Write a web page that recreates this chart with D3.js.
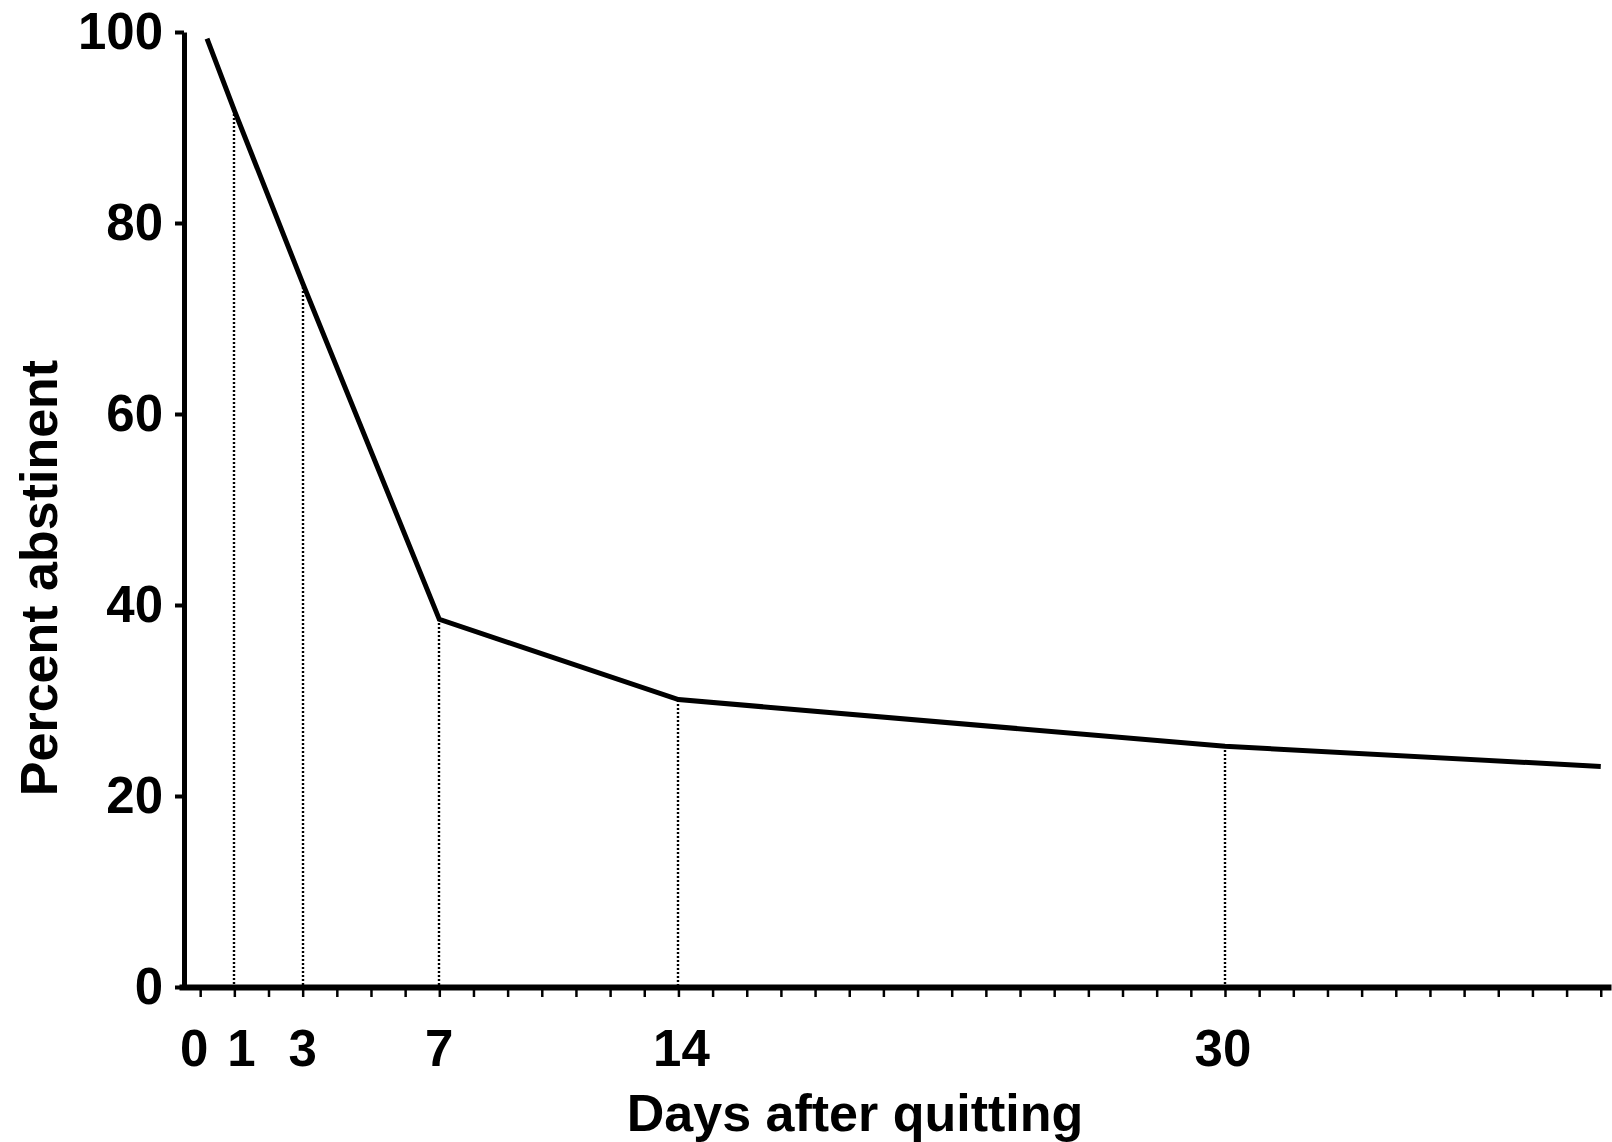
<!DOCTYPE html>
<html>
<head>
<meta charset="utf-8">
<script src="https://cdn.jsdelivr.net/npm/d3@7"></script>
<style>
  html, body { margin: 0; padding: 0; background: #fff; }
  svg { display: block; }
  text { font-family: "Liberation Sans", Arial, sans-serif; font-weight: bold; fill: #000; }
</style>
</head>
<body>
<svg id="chart" width="1612" height="1142"></svg>
<script>
// ---- data ----
const days = [0.2, 1, 3, 7, 14, 30, 41];
const abstinent = [99.3, 91.8, 73.7, 38.5, 30.1, 25.2, 23.1];
const markedDays = [1, 3, 7, 14, 30];
const xTickLabels = [0, 1, 3, 7, 14, 30];
const yTickValues = [0, 20, 40, 60, 80, 100];
const xTitle = "Days after quitting";
const yTitle = "Percent abstinent";

const svg = d3.select("#chart");

const x = d3.scaleLinear().domain([-0.62, 41.3]).range([179, 1611]);
const y = d3.scaleLinear().domain([0, 100]).range([987, 32]);

const points = days.map((d, i) => ({ d, v: abstinent[i] }));
const valueAt = d => abstinent[days.indexOf(d)];

// dotted drop lines
svg.append("g").selectAll("line").data(markedDays).join("line")
  .attr("x1", d => Math.round(x(d))).attr("x2", d => Math.round(x(d)))
  .attr("y1", d => Math.round(y(valueAt(d)))).attr("y2", y(0))
  .attr("stroke", "#000").attr("stroke-width", 2.4)
  .attr("stroke-dasharray", "2,2");

// x axis: minor ticks every day
const xAxis = d3.axisBottom(x)
  .tickValues(d3.range(0, 42))
  .tickSize(10).tickSizeOuter(0)
  .tickFormat("");
const gx = svg.append("g").attr("transform", `translate(0,${y(0)})`).call(xAxis);
gx.select(".domain").attr("stroke", "#000").attr("stroke-width", 6);
gx.selectAll(".tick line").attr("stroke", "#000").attr("stroke-width", 2.5);

// x tick labels
const labelShift = { 0: -6, 1: 7, 3: 0, 7: 0, 14: 3, 30: -2 };
svg.append("g").selectAll("text").data(xTickLabels).join("text")
  .attr("x", d => x(d) + labelShift[d])
  .attr("y", 1066)
  .attr("text-anchor", "middle")
  .attr("font-size", 51)
  .text(d => d);

// y axis
const yAxis = d3.axisLeft(y).tickValues(yTickValues).tickSize(9).tickSizeOuter(0).tickPadding(12);
const gy = svg.append("g").attr("transform", `translate(184,0)`).call(yAxis);
gy.select(".domain").attr("stroke", "#000").attr("stroke-width", 5);
gy.selectAll(".tick line").attr("stroke", "#000").attr("stroke-width", 4);
gy.selectAll(".tick text")
  .attr("font-size", 51)
  .attr("font-family", "Liberation Sans, Arial, sans-serif")
  .attr("font-weight", "bold")
  .attr("fill", "#000");

// curve
const line = d3.line().x(p => x(p.d)).y(p => y(p.v));
svg.append("path").datum(points)
  .attr("d", line)
  .attr("fill", "none")
  .attr("stroke", "#000")
  .attr("stroke-width", 5)
  .attr("stroke-linejoin", "miter");

// titles
svg.append("text")
  .attr("x", 855).attr("y", 1131)
  .attr("text-anchor", "middle")
  .attr("font-size", 52)
  .text(xTitle);

svg.append("text")
  .attr("transform", "translate(57,578) rotate(-90)")
  .attr("text-anchor", "middle")
  .attr("font-size", 52)
  .text(yTitle);
</script>
</body>
</html>
